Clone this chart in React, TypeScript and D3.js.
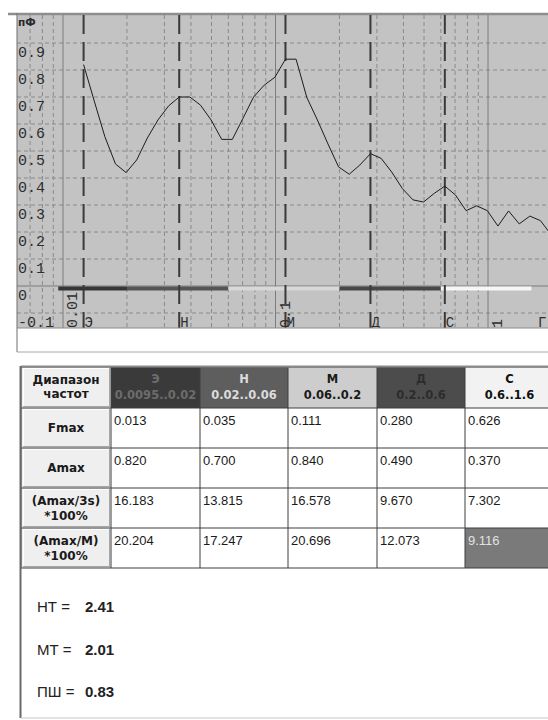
import React from 'react';
import * as d3 from 'd3';

// Spectrum sampled on a log-spaced frequency grid (Hz)
const freqs = [
  0.0125, 0.01403, 0.01574, 0.01766, 0.01981, 0.02223, 0.02494, 0.02798, 0.0314, 0.03523,
  0.03953, 0.04435, 0.04976, 0.05583, 0.06264, 0.07029, 0.07886, 0.08848, 0.09928, 0.1114,
  0.125, 0.1403, 0.1574, 0.1766, 0.1981, 0.2223, 0.2494, 0.2798, 0.314, 0.3523,
  0.3953, 0.4435, 0.4976, 0.5583, 0.6264, 0.7029, 0.7886, 0.8848, 0.9928, 1.114,
  1.25, 1.403, 1.574, 1.766, 1.981,
];
const spectrum = [
  0.82, 0.685, 0.553, 0.452, 0.42, 0.467, 0.548, 0.615, 0.667, 0.7,
  0.7, 0.67, 0.615, 0.543, 0.543, 0.621, 0.7, 0.744, 0.773, 0.84,
  0.84, 0.699, 0.615, 0.526, 0.441, 0.414, 0.448, 0.49, 0.473, 0.422,
  0.361, 0.319, 0.311, 0.343, 0.37, 0.337, 0.279, 0.297, 0.279, 0.222,
  0.278, 0.23, 0.259, 0.242, 0.19,
];

// Frequency bands
const bandNames = ['Э', 'Н', 'М', 'Д', 'С'];
const bandRanges = ['0.0095..0.02', '0.02..0.06', '0.06..0.2', '0.2..0.6', '0.6..1.6'];
const bandLo = [0.0095, 0.02, 0.06, 0.2, 0.6];
const bandHi = [0.02, 0.06, 0.2, 0.6, 1.6];

// Table rows
const fmaxText = ['0.013', '0.035', '0.111', '0.280', '0.626'];
const amaxText = ['0.820', '0.700', '0.840', '0.490', '0.370'];
const amax3sText = ['16.183', '13.815', '16.578', '9.670', '7.302'];
const amaxMText = ['20.204', '17.247', '20.696', '12.073', '9.116'];
const rowLabels = [['Fmax'], ['Amax'], ['(Amax/3s)', '*100%'], ['(Amax/M)', '*100%']];
const headerLabel = ['Диапазон', 'частот'];

// Axis ticks
const yTicks = [-0.1, 0, 0.1, 0.2, 0.3, 0.4, 0.5, 0.6, 0.7, 0.8, 0.9];
const decades = [0.01, 0.1, 1];
const decadeLabels = ['0.01', '0.1', '1'];
const unitLabel = 'Г';

// Summary indices
const indexNames = ['НТ', 'МТ', 'ПШ'];
const indexValues = ['2.41', '2.01', '0.83'];

// Styles
const bandBar = ['#363636', '#555555', '#d8d8d8', '#474747', '#f6f6f6'];
const bandHeadFill = ['#3a3a3a', '#5e5e5e', '#cdcdcd', '#4c4c4c', '#f2f2f2'];
const bandHeadText = ['#6c6c6c', '#dcdcdc', '#1a1a1a', '#2c2c2c', '#111111'];

const W = 548;
const H = 720;
const P = { left: 17, top: 15, right: 552, bottom: 328 };

const x = d3.scaleLog().domain([0.01, 1]).range([63, 488]);
const y = d3.scaleLinear().domain([0, 0.9]).range([286, 43]);

const mono = '"Liberation Mono", "Courier New", monospace';
const sans = '"Liberation Sans", Arial, sans-serif';
const dejavu = '"DejaVu Sans", Verdana, sans-serif';

export default function App() {
  const gridF = d3.scaleLog().domain([0.006, 2]).ticks();
  const minorF = gridF.filter((f) => !decades.some((d) => Math.abs(f / d - 1) < 1e-6));

  const line = d3
    .line<number>()
    .x((_, i) => x(freqs[i]))
    .y((v) => y(v));

  // peak of each band
  const peaks = bandLo.map((lo, b) => {
    const idx = freqs.map((f, i) => i).filter((i) => freqs[i] >= lo && freqs[i] < bandHi[b]);
    return idx[d3.maxIndex(idx, (i) => spectrum[i])];
  });

  const cols = [21, 111, 200, 288, 377, 465, 554];
  const rows = [367, 408, 448, 488, 528, 568];
  const tableRows = [fmaxText, amaxText, amax3sText, amaxMText];

  return (
    <svg
      width={W}
      height={H}
      style={{ position: 'absolute', left: 0, top: 0, display: 'block', background: '#fff' }}
    >
      <defs>
        <clipPath id="plotClip">
          <rect x={P.left} y={P.top} width={P.right - P.left} height={P.bottom - P.top} />
        </clipPath>
      </defs>

      {/* chart panel */}
      <rect x={P.left} y={P.top} width={P.right - P.left} height={P.bottom - P.top} fill="#c3c3c3" />
      <line x1={8} x2={W} y1={14} y2={14} stroke="#8e8e8e" strokeWidth={2.5} />

      <g clipPath="url(#plotClip)">
        {/* horizontal grid */}
        {yTicks.map((t) => (
          <line
            key={'h' + t}
            x1={P.left}
            x2={P.right}
            y1={y(t)}
            y2={y(t)}
            stroke={t === 0 ? '#7a7a7a' : '#8a8a8a'}
            strokeDasharray={t === 0 ? undefined : '4 3'}
          />
        ))}
        {/* vertical grid */}
        {minorF.map((f) => (
          <line key={'v' + f} x1={x(f)} x2={x(f)} y1={P.top} y2={P.bottom} stroke="#8a8a8a" strokeDasharray="4 3" />
        ))}
        {decades.map((d) => (
          <line key={'d' + d} x1={x(d)} x2={x(d)} y1={P.top} y2={P.bottom} stroke="#7c7c7c" />
        ))}

        {/* band bars on the zero line */}
        {bandLo.map((lo, b) => (
          <rect key={'bar' + b} x={x(lo)} y={y(0) + 0.5} width={x(bandHi[b]) - x(lo)} height={4} fill={bandBar[b]} />
        ))}

        {/* Fmax markers */}
        {peaks.map((i, b) => (
          <line
            key={'pk' + b}
            x1={x(freqs[i])}
            x2={x(freqs[i])}
            y1={P.top}
            y2={P.bottom}
            stroke="#3a3a3a"
            strokeWidth={2}
            strokeDasharray="19 8"
          />
        ))}

        {/* spectrum */}
        <path d={line(spectrum) || ''} fill="none" stroke="#1c1c1c" strokeWidth={1} />

        {/* y labels */}
        {yTicks.map((t) => (
          <text key={'yl' + t} x={18} y={y(t) + 14} fontFamily={mono} fontSize={15} fill="#2e2e2e">
            {t === 0 ? '0' : t.toFixed(1)}
          </text>
        ))}

        {/* decade labels, rotated */}
        {decades.map((d, i) => (
          <text
            key={'dl' + d}
            transform={`translate(${x(d) + 14},${P.bottom}) rotate(-90)`}
            fontFamily={mono}
            fontSize={15}
            fill="#2e2e2e"
          >
            {decadeLabels[i]}
          </text>
        ))}

        {/* band letters */}
        {peaks.map((i, b) => (
          <text key={'bl' + b} x={x(freqs[i]) + 1} y={P.bottom - 1} fontFamily={mono} fontSize={14} fill="#2e2e2e">
            {bandNames[b]}
          </text>
        ))}
        <text x={538} y={P.bottom - 1} fontFamily={mono} fontSize={14} fill="#2e2e2e">
          {unitLabel}
        </text>

        <text x={18} y={26} fontFamily={dejavu} fontSize={10.5} fontWeight="bold" fill="#2a2a2a">
          пФ
        </text>
      </g>

      {/* chart frame */}
      <line x1={P.left} x2={P.left} y1={13} y2={352} stroke="#6e6e6e" />
      <line x1={P.left} x2={W} y1={P.bottom} y2={P.bottom} stroke="#8a8a8a" />
      <line x1={P.left} x2={W} y1={352} y2={352} stroke="#a8a8a8" />

      {/* table */}
      <g>
        {/* label column */}
        {rows.slice(0, -1).map((r, ri) => (
          <g key={'lc' + ri}>
            <rect x={cols[0]} y={r} width={cols[1] - cols[0]} height={rows[ri + 1] - r} fill="#efefef" />
            <line x1={cols[0] + 2} x2={cols[1] - 1} y1={r + 1.5} y2={r + 1.5} stroke="#ffffff" />
            <line x1={cols[0] + 2.5} x2={cols[0] + 2.5} y1={r + 1} y2={rows[ri + 1] - 1} stroke="#ffffff" />
            <line x1={cols[1] - 1.5} x2={cols[1] - 1.5} y1={r + 1} y2={rows[ri + 1] - 1} stroke="#a6a6a6" />
            <line x1={cols[0] + 2} x2={cols[1] - 1} y1={rows[ri + 1] - 1.5} y2={rows[ri + 1] - 1.5} stroke="#a6a6a6" />
          </g>
        ))}
        {/* band headers */}
        {bandNames.map((n, b) => (
          <g key={'hd' + b}>
            <rect x={cols[b + 1]} y={rows[0]} width={cols[b + 2] - cols[b + 1]} height={rows[1] - rows[0]} fill={bandHeadFill[b]} />
            <text
              x={(cols[b + 1] + cols[b + 2]) / 2}
              y={rows[0] + 16}
              textAnchor="middle"
              fontFamily={dejavu}
              fontWeight="bold"
              fontSize={11.5}
              fill={bandHeadText[b]}
            >
              {n}
            </text>
            <text
              x={(cols[b + 1] + cols[b + 2]) / 2}
              y={rows[0] + 32}
              textAnchor="middle"
              fontFamily={dejavu}
              fontWeight="bold"
              fontSize={11.5}
              fill={bandHeadText[b]}
            >
              {bandRanges[b]}
            </text>
          </g>
        ))}
        {/* values */}
        {tableRows.map((vals, ri) =>
          vals.map((v, b) => {
            const hl = ri === 3 && b === 4;
            return (
              <g key={'c' + ri + '-' + b}>
                <rect
                  x={cols[b + 1]}
                  y={rows[ri + 1]}
                  width={cols[b + 2] - cols[b + 1]}
                  height={rows[ri + 2] - rows[ri + 1]}
                  fill={hl ? '#7a7a7a' : '#ffffff'}
                />
                <text x={cols[b + 1] + 3} y={rows[ri + 1] + 17} fontFamily={sans} fontSize={13} fill={hl ? '#e2e2e2' : '#1a1a1a'}>
                  {v}
                </text>
              </g>
            );
          })
        )}
        {/* label column text */}
        {headerLabel.map((t, i) => (
          <text
            key={'hl' + i}
            x={(cols[0] + cols[1]) / 2}
            y={rows[0] + 17 + i * 14}
            textAnchor="middle"
            fontFamily={dejavu}
            fontWeight="bold"
            fontSize={12}
            fill="#1a1a1a"
          >
            {t}
          </text>
        ))}
        {rowLabels.map((lines, ri) => {
          const mid = (rows[ri + 1] + rows[ri + 2]) / 2;
          const start = mid + 4 - ((lines.length - 1) * 15) / 2;
          return lines.map((t, li) => (
            <text
              key={'rl' + ri + li}
              x={(cols[0] + cols[1]) / 2}
              y={start + li * 15}
              textAnchor="middle"
              fontFamily={dejavu}
              fontWeight="bold"
              fontSize={12}
              fill="#1a1a1a"
            >
              {t}
            </text>
          ));
        })}
        {/* grid lines */}
        {cols.map((c, i) => (
          <line key={'gc' + i} x1={c} x2={c} y1={rows[0]} y2={rows[rows.length - 1]} stroke="#3e3e3e" />
        ))}
        {rows.map((r, i) => (
          <line key={'gr' + i} x1={cols[0]} x2={cols[cols.length - 1]} y1={r} y2={r} stroke="#3e3e3e" />
        ))}
        <line x1={cols[0]} x2={W} y1={rows[0] - 0.5} y2={rows[0] - 0.5} stroke="#8a8a8a" strokeWidth={2} />
        <line x1={cols[0] - 0.5} x2={cols[0] - 0.5} y1={rows[0] - 1} y2={718} stroke="#6a6a6a" strokeWidth={2} />
      </g>

      {/* summary panel */}
      <line x1={cols[0]} x2={W} y1={718} y2={718} stroke="#c8c8c8" />
      {indexNames.map((n, i) => (
        <g key={'ix' + i}>
          <text x={37} y={612 + i * 42.5} fontFamily={sans} fontSize={15} fill="#222">
            {n + ' ='}
          </text>
          <text x={85} y={612 + i * 42.5} fontFamily={sans} fontWeight="bold" fontSize={15} fill="#222">
            {indexValues[i]}
          </text>
        </g>
      ))}
    </svg>
  );
}
